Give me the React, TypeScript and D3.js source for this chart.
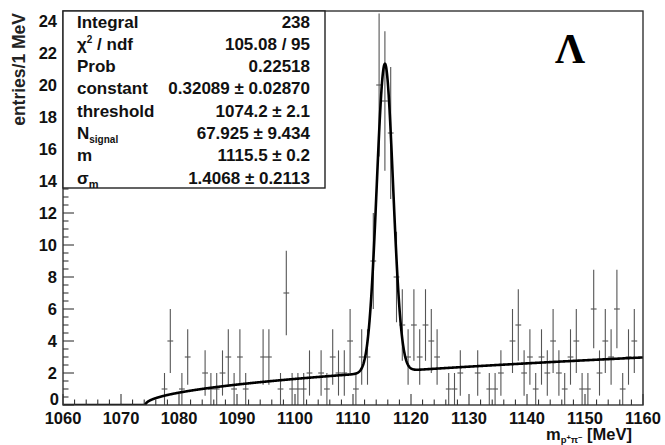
import React from "react";
import * as d3 from "d3";

// ---- data (1 MeV bins, lower edges 1060 ... 1159) ----
const binLowEdges: number[] = [
  1060, 1061, 1062, 1063, 1064, 1065, 1066, 1067, 1068, 1069,
  1070, 1071, 1072, 1073, 1074, 1075, 1076, 1077, 1078, 1079,
  1080, 1081, 1082, 1083, 1084, 1085, 1086, 1087, 1088, 1089,
  1090, 1091, 1092, 1093, 1094, 1095, 1096, 1097, 1098, 1099,
  1100, 1101, 1102, 1103, 1104, 1105, 1106, 1107, 1108, 1109,
  1110, 1111, 1112, 1113, 1114, 1115, 1116, 1117, 1118, 1119,
  1120, 1121, 1122, 1123, 1124, 1125, 1126, 1127, 1128, 1129,
  1130, 1131, 1132, 1133, 1134, 1135, 1136, 1137, 1138, 1139,
  1140, 1141, 1142, 1143, 1144, 1145, 1146, 1147, 1148, 1149,
  1150, 1151, 1152, 1153, 1154, 1155, 1156, 1157, 1158, 1159,
];
const entries: number[] = [
  0, 0, 0, 0, 0, 0, 0, 0, 0, 0,
  0, 0, 0, 0, 0, 0, 0, 1, 4, 0,
  1, 3, 0, 0, 2, 1, 1, 2, 3, 1,
  3, 1, 0, 0, 3, 3, 0, 1, 7, 1,
  1, 1, 2, 0, 2, 1, 3, 2, 2, 4,
  1, 3, 3, 9, 20, 19, 17, 8, 5, 3,
  5, 3, 5, 4, 3, 0, 1, 1, 2, 0,
  0, 2, 0, 1, 1, 2, 0, 4, 5, 2,
  3, 1, 3, 2, 4, 2, 1, 3, 4, 1,
  1, 6, 2, 4, 3, 6, 1, 3, 4, 0,
];
const binWidth = 1;

// fit parameters
const fitConstant = 0.32089;
const fitThreshold = 1074.2;
const fitNSignal = 67.925;
const fitMean = 1115.5;
const fitSigma = 1.4068;

// ticks
const xTickLabels: number[] = [1060, 1070, 1080, 1090, 1100, 1110, 1120, 1130, 1140, 1150, 1160];
const yTickLabels: number[] = [0, 2, 4, 6, 8, 10, 12, 14, 16, 18, 20, 22, 24];

// stats box
const statNames: string[] = ["Integral", "chi2", "Prob", "constant", "threshold", "Nsignal", "m", "sigma"];
const statValues: string[] = [
  "238",
  "105.08 / 95",
  "0.22518",
  "0.32089 \u00b1 0.02870",
  "1074.2 \u00b1 2.1",
  "67.925 \u00b1 9.434",
  "1115.5 \u00b1 0.2",
  "1.4068 \u00b1 0.2113",
];

const W = 665;
const H = 445;
const L = 63, R = 643, T = 11, B = 405;
const SANS = "'Liberation Sans', Arial, Helvetica, sans-serif";

function fitFn(m: number): number {
  const bg = m > fitThreshold ? fitConstant * Math.sqrt(m - fitThreshold) : 0;
  const g =
    (fitNSignal * binWidth) / (Math.sqrt(2 * Math.PI) * fitSigma) *
    Math.exp(-0.5 * ((m - fitMean) / fitSigma) ** 2);
  return bg + g;
}

function statLabel(name: string) {
  if (name === "chi2")
    return (
      <>
        {"\u03c7"}
        <tspan fontSize={10} dy={-7}>2</tspan>
        <tspan dy={7}>{" / ndf"}</tspan>
      </>
    );
  if (name === "Nsignal")
    return (
      <>
        N<tspan fontSize={10} dy={4}>signal</tspan>
      </>
    );
  if (name === "sigma")
    return (
      <>
        {"\u03c3"}<tspan fontSize={11} dy={4}>m</tspan>
      </>
    );
  return name;
}

export default function App() {
  const x = d3.scaleLinear().domain([1060, 1160]).range([L, R]);
  const y = d3.scaleLinear().domain([0, (B - T) / 16]).range([B, T]);

  const fitPts: [number, number][] = [];
  for (let m = 1060; m <= 1160.0001; m += 0.05) fitPts.push([m, fitFn(m)]);
  const line = d3
    .line<[number, number]>()
    .x((d) => x(d[0]))
    .y((d) => y(d[1]));

  const xMinor = d3.range(1060, 1160.001, 2);
  const yMinor = d3.range(0, (B - T) / 16, 0.5);

  const rowY = (i: number) => 27.5 + i * 22.3;

  return (
    <svg
      width={W}
      height={H}
      style={{ position: "absolute", left: 0, top: 0, background: "#fff" }}
      fontFamily={SANS}
    >
      <defs>
        <clipPath id="plot">
          <rect x={L} y={T} width={R - L} height={B - T} />
        </clipPath>
      </defs>
      <rect x={0} y={0} width={W} height={H} fill="#fff" />

      {/* error bars */}
      <g clipPath="url(#plot)" stroke="#555" strokeWidth={1.1}>
        {binLowEdges.map((lo, i) => {
          const n = entries[i];
          if (n <= 0) return null;
          const e = Math.sqrt(n);
          const c = lo + binWidth / 2;
          return (
            <g key={lo}>
              <line x1={x(c)} x2={x(c)} y1={y(n + e)} y2={y(Math.max(0, n - e))} />
              <line x1={x(lo)} x2={x(lo + binWidth)} y1={y(n)} y2={y(n)} />
            </g>
          );
        })}
      </g>

      {/* fit */}
      <path
        d={line(fitPts) || ""}
        fill="none"
        stroke="#000"
        strokeWidth={2.6}
        clipPath="url(#plot)"
      />

      {/* ticks */}
      <g stroke="#222" strokeWidth={1}>
        {xMinor.map((v) => {
          const major = xTickLabels.includes(Math.round(v));
          return <line key={"xm" + v} x1={x(v)} x2={x(v)} y1={B} y2={B - (major ? 11 : 5.5)} />;
        })}
        {yMinor.map((v) => {
          const major = Math.abs(v / 2 - Math.round(v / 2)) < 1e-6;
          return <line key={"ym" + v} x1={L} x2={L + (major ? 11 : 5.5)} y1={y(v)} y2={y(v)} />;
        })}
      </g>

      {/* frame */}
      <rect x={L} y={T} width={R - L} height={B - T} fill="none" stroke="#333" strokeWidth={1.4} />

      {/* tick labels */}
      <g fontSize={16.5} fontWeight="bold" fill="#111">
        {xTickLabels.map((v) => (
          <text key={"xl" + v} x={x(v)} y={424} textAnchor="middle">
            {v}
          </text>
        ))}
        {yTickLabels.map((v) => (
          <text key={"yl" + v} x={v === 0 ? 59 : 57} y={y(v) + (v === 0 ? 0 : 6)} textAnchor="end">
            {v}
          </text>
        ))}
      </g>

      {/* axis titles */}
      <text
        transform="translate(25,13) rotate(-90)"
        textAnchor="end"
        fontSize={17.5}
        fontWeight="bold"
        fill="#222"
      >
        entries/1 MeV
      </text>
      <text x={632} y={440} textAnchor="end" fontSize={16.5} fontWeight="bold" fill="#111">
        <tspan>m</tspan>
        <tspan fontSize={9.5} dy={3}>p</tspan>
        <tspan fontSize={7.5} dy={-3}>+</tspan>
        <tspan fontSize={9.5} dy={3}>{"\u03c0"}</tspan>
        <tspan fontSize={7.5} dy={-3}>{"\u2212"}</tspan>
        <tspan>{" [MeV]"}</tspan>
      </text>

      {/* Lambda label */}
      <text
        x={570}
        y={63}
        textAnchor="middle"
        fontFamily="'Liberation Serif', 'Times New Roman', serif"
        fontWeight="bold"
        fontSize={42}
        fill="#000"
      >
        {"\u039b"}
      </text>

      {/* stats box */}
      <rect x={L} y={T} width={325 - L} height={188 - T} fill="#fff" stroke="#222" strokeWidth={1.4} />
      <g fontSize={17} fontWeight="bold" fill="#111">
        {statNames.map((nm, i) => (
          <text key={"sn" + i} x={77} y={rowY(i)}>
            {statLabel(nm)}
          </text>
        ))}
        {statValues.map((v, i) => (
          <text key={"sv" + i} x={310} y={rowY(i)} textAnchor="end">
            {v}
          </text>
        ))}
      </g>
    </svg>
  );
}
